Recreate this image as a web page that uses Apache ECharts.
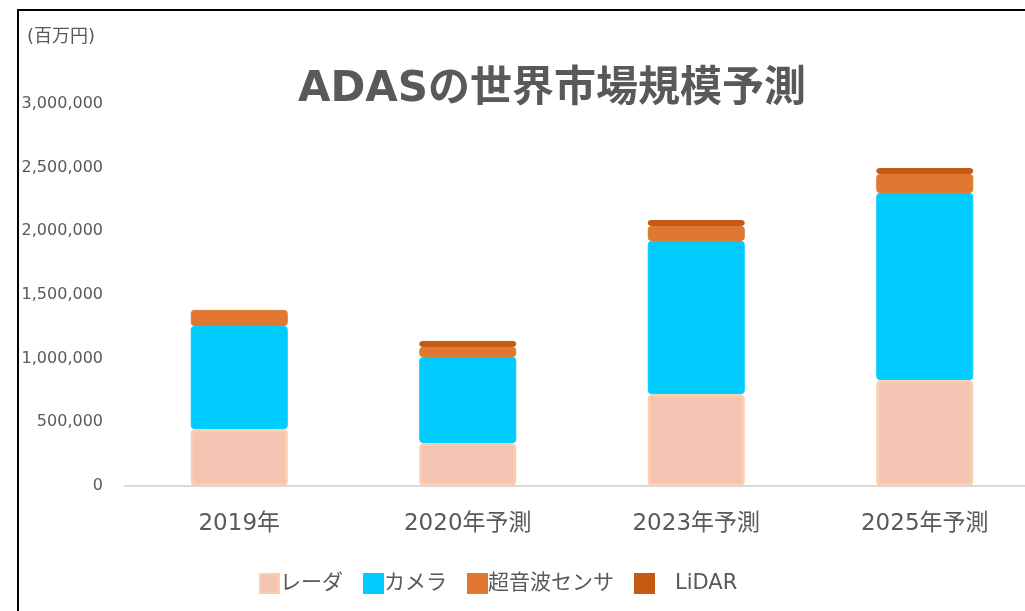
<!DOCTYPE html>
<html>
<head>
<meta charset="utf-8">
<script src="https://cdn.jsdelivr.net/npm/echarts@6/dist/echarts.min.js"></script>
<style>
  html, body { margin: 0; padding: 0; background: #fff; }
  #chart { width: 1025px; height: 611px; }
</style>
</head>
<body>
<div id="chart"></div>
<script>
const categories = ['2019年', '2020年予測', '2023年予測', '2025年予測']
const seriesNames = ['レーダ', 'カメラ', '超音波センサ', 'LiDAR']
const radar = [448000, 338000, 722000, 832000]
const camera = [809000, 675000, 1202000, 1469000]
const sonar = [126000, 79000, 118000, 149000]
const lidar = [null, 47000, 47000, 47000]
const yTicks = [0, 500000, 1000000, 1500000, 2000000, 2500000, 3000000]

const colors = ['#F4C3B1', '#00CCFF', '#E07831', '#C55A11']
const borders = ['#F9CFAE', '#00CCFF', '#E07831', '#C55A11']
const font = "'DejaVu Sans', 'Noto Sans CJK JP', sans-serif"

const chart = echarts.init(document.getElementById('chart'))

const values = [radar, camera, sonar, lidar]

chart.setOption({
  backgroundColor: '#fff',
  animation: false,
  title: {
    text: 'ADASの世界市場規模予測',
    left: 547,
    top: 64,
    textAlign: 'center',
    textStyle: { fontFamily: font, fontSize: 42, fontWeight: 'bold', color: '#595959' }
  },
  graphic: [
    {
      type: 'rect',
      shape: { x: 18, y: 10, width: 1100, height: 700 },
      style: { fill: 'none', stroke: '#000', lineWidth: 2 },
      silent: true
    },
    {
      type: 'text',
      left: 27,
      top: 28,
      style: { text: '(百万円)', fontFamily: font, fontSize: 18, fill: '#595959' }
    }
  ],
  legend: {
    left: 254,
    top: 568,
    itemWidth: 19,
    itemHeight: 19,
    itemGap: 20,
    icon: 'rect',
    data: seriesNames,
    formatter: name => (name === 'LiDAR' ? '   ' + name : name),
    textStyle: { fontFamily: font, fontSize: 21, color: '#595959', padding: [0, 0, 0, -4] }
  },
  grid: { left: 125, top: 104, width: 914, bottom: 125, outerBoundsMode: 'none' },
  xAxis: {
    type: 'category',
    data: categories,
    axisLine: { lineStyle: { color: '#D9D9D9', width: 2 } },
    axisTick: { show: false },
    axisLabel: { fontFamily: font, fontSize: 23, color: '#595959', margin: 27 }
  },
  yAxis: {
    type: 'value',
    min: yTicks[0],
    max: yTicks[yTicks.length - 1],
    interval: yTicks[1] - yTicks[0],
    axisLine: { show: false },
    axisTick: { show: false },
    splitLine: { show: false },
    axisLabel: {
      fontFamily: font,
      fontSize: 16,
      color: '#595959',
      margin: 22,
      padding: [4, 0, 0, 0],
      formatter: v => v.toLocaleString('en-US')
    }
  },
  series: seriesNames.map((name, i) => ({
    name,
    type: 'bar',
    stack: 'total',
    barWidth: 97,
    data: values[i],
    itemStyle: {
      color: colors[i],
      borderColor: borders[i],
      borderWidth: i === 0 ? 3 : 1,
      borderRadius: 3
    }
  }))
})
</script>
</body>
</html>
